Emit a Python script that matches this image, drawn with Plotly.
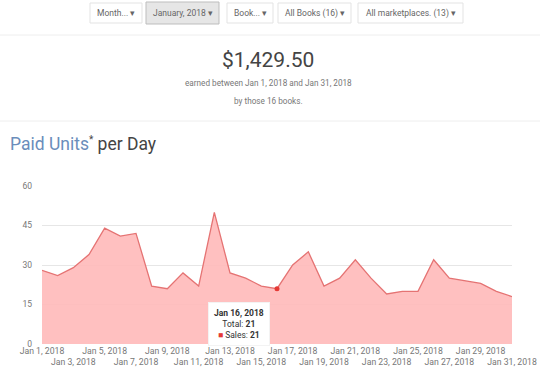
import plotly.graph_objects as go

# ---- data ----
days = [f"2018-01-{d:02d}" for d in range(1, 32)]
units = [28, 26, 29, 34, 44, 41, 42, 22, 21, 27, 22, 50, 27, 25, 22, 21,
         30, 35, 22, 25, 32, 25, 19, 20, 20, 32, 25, 24, 23, 20, 18]
tick_days = days
tick_labels = [f"Jan {d}, 2018" for d in range(1, 32)]
y_ticks = [0, 15, 30, 45, 60]
highlight_day = "2018-01-16"
highlight_value = 21
buttons = ["Month... ▾", "January, 2018 ▾", "Book... ▾", "All Books (16) ▾", "All marketplaces. (13) ▾"]
button_x = [(90, 142), (146, 219), (227, 273), (278, 351), (358, 463)]
earned = "$1,429.50"

W, H = 540, 371
# plot area in page pixels
L, R, T, B = 42, 512, 186, 344


def px(x):
    return (x - L) / (R - L)


def py(y):
    return (B - y) / (B - T)


# staggered tick labels (every other on a second row)
shown_vals, shown_text = [], []
for i, (d, t) in enumerate(zip(tick_days, tick_labels)):
    if i % 2 == 0:
        shown_vals.append(d)
        shown_text.append(t if (i // 2) % 2 == 0 else "<br>" + t)

fig = go.Figure()
fig.add_trace(go.Scatter(
    x=days, y=units, mode="lines", fill="tozeroy",
    line=dict(color="#e57373", width=1.3),
    fillcolor="rgba(255,185,185,0.9)", hoverinfo="skip"))
fig.add_trace(go.Scatter(
    x=[highlight_day], y=[highlight_value], mode="markers",
    marker=dict(color="#e53935", size=5), hoverinfo="skip"))

shapes = []
annotations = []
for (x0, x1), label in zip(button_x, buttons):
    sel = label.startswith("January")
    shapes.append(dict(type="rect", xref="paper", yref="paper",
                       x0=px(x0), x1=px(x1), y0=py(3 if not sel else 2), y1=py(23 if not sel else 24),
                       line=dict(color="#bdbdbd" if sel else "#e3e3e3", width=1),
                       fillcolor="#e6e6e6" if sel else "#ffffff", layer="below"))
    annotations.append(dict(xref="paper", yref="paper", x=px((x0 + x1) / 2), y=py(13),
                            xanchor="center", yanchor="middle",
                            text=label, showarrow=False,
                            font=dict(size=8.5, color="#666666", family="Roboto")))

# separators
for yy in (35, 121):
    shapes.append(dict(type="line", xref="paper", yref="paper", x0=px(0), x1=px(540),
                       y0=py(yy), y1=py(yy), line=dict(color="#eeeeee", width=1)))

annotations += [
    dict(xref="paper", yref="paper", x=px(268), y=py(60), text=earned, showarrow=False,
         xanchor="center", yanchor="middle",
         font=dict(size=21, color="#444444", family="Roboto")),
    dict(xref="paper", yref="paper", x=px(268), y=py(83),
         text="earned between Jan 1, 2018 and Jan 31, 2018", showarrow=False,
         xanchor="center", yanchor="middle",
         font=dict(size=8.2, color="#777777", family="Roboto")),
    dict(xref="paper", yref="paper", x=px(268), y=py(101), text="by those 16 books.",
         xanchor="center", yanchor="middle",
         showarrow=False, font=dict(size=8.2, color="#777777", family="Roboto")),
    dict(xref="paper", yref="paper", x=px(8), y=py(144), xanchor="left", yanchor="middle",
         text="<span style='color:#6a8dbb'>Paid Units</span>"
              "<sup><span style='font-size:10px'>*</span></sup> per Day",
         showarrow=False, font=dict(size=17.5, color="#444444", family="Roboto")),
    dict(xref="paper", yref="paper", x=px(238.5), y=py(324),
         xanchor="center", yanchor="middle",
         text=f"<b>Jan 16, 2018</b><br>Total: <b>{highlight_value}</b><br>"
              f"<span style='color:#e53935'>■</span> Sales: <b>{highlight_value}</b>",
         showarrow=False, align="center", bgcolor="#ffffff", borderpad=5,
         bordercolor="#f3f3f3", borderwidth=1,
         font=dict(size=8.5, color="#333333", family="Roboto")),
]

fig.update_layout(
    width=W, height=H, showlegend=False,
    margin=dict(l=L, r=W - R, t=T, b=H - B, pad=0, autoexpand=False),
    paper_bgcolor="#ffffff", plot_bgcolor="#ffffff",
    font=dict(family="Roboto", size=8, color="#777777"),
    shapes=shapes, annotations=annotations,
    xaxis=dict(range=[days[0], days[-1]], tickvals=shown_vals, ticktext=shown_text,
               showgrid=False, zeroline=False, showline=False, ticks="", automargin=False,
               tickangle=0, tickfont=dict(size=8.7, color="#777777"), fixedrange=True),
    yaxis=dict(range=[0, 60], tickvals=y_ticks, showgrid=True, gridcolor="#e6e6e6",
               zeroline=False, ticks="", ticklabelstandoff=9, automargin=False,
               tickfont=dict(size=8.5, color="#777777"), fixedrange=True),
)

fig.write_html("out.html",
               config={"displayModeBar": False, "staticPlot": True},
               post_script="document.body.style.margin='0';document.body.style.overflow='hidden';")
